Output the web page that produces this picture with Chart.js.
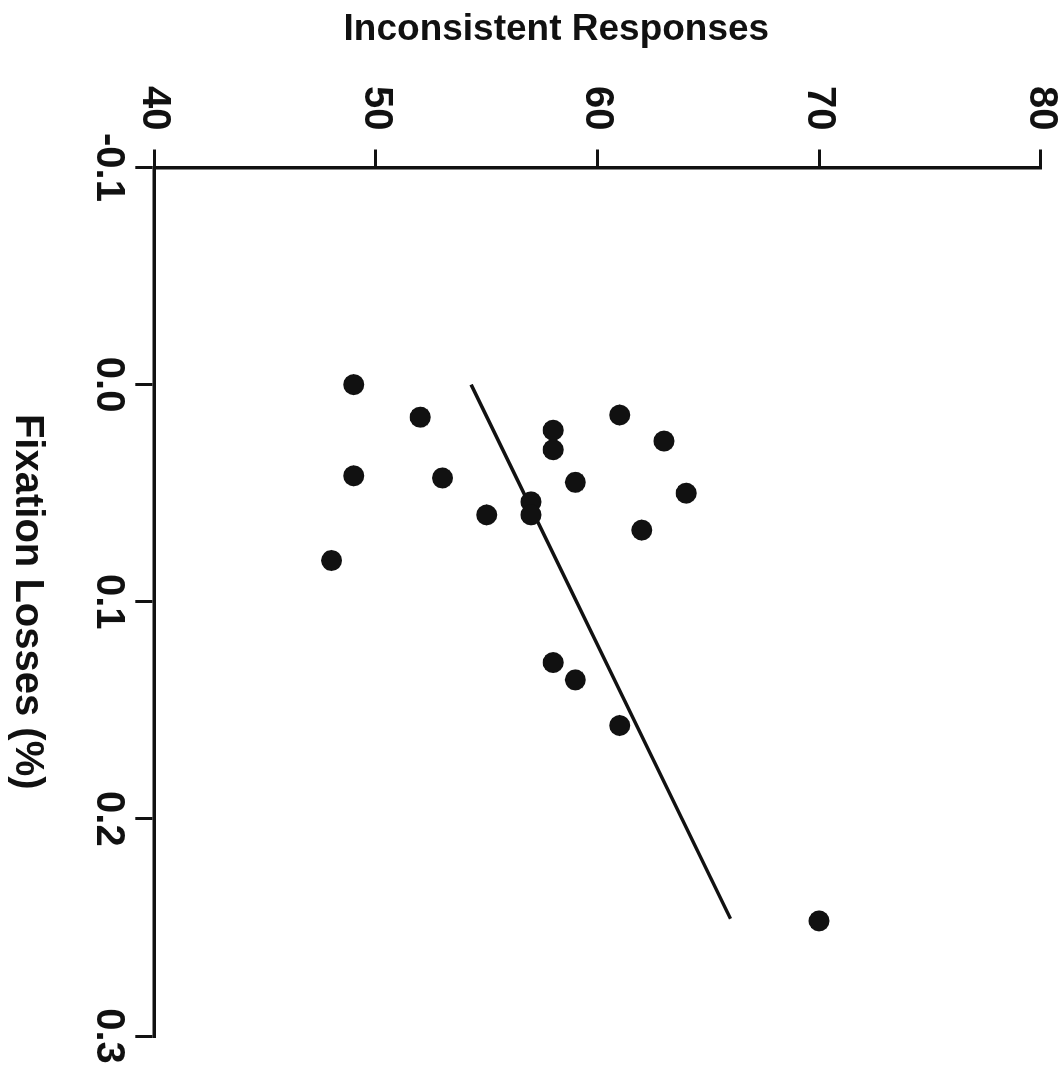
<!DOCTYPE html>
<html>
<head>
<meta charset="utf-8">
<script src="https://cdn.jsdelivr.net/npm/chart.js@4.4.1/dist/chart.umd.min.js"></script>
<style>
  body { margin: 0; background: #fff; overflow: hidden; }
  /* o grafico original esta girado 90 graus no sentido horario */
  #caixa {
    position: absolute; left: 0; top: 0;
    width: 1068px; height: 1064px;
    transform-origin: 0 0;
    transform: translate(1064px, 0) rotate(90deg);
  }
</style>
</head>
<body>
<div id="caixa"><canvas id="myChart" width="1068" height="1064"></canvas></div>
<script>
// dados
var fixationLosses = [0.000, 0.015, 0.042, 0.043, 0.060, 0.054, 0.060, 0.021, 0.030, 0.045, 0.014, 0.026, 0.050, 0.067, 0.081, 0.128, 0.136, 0.157, 0.247]
var inconsistent = [49, 52, 49, 53, 55, 57, 57, 58, 58, 59, 61, 63, 64, 62, 48, 58, 59, 61, 70]

// reta de regressao (pontas)
var fitLosses = [0.0, 0.246]
var fitResponses = [54.3, 66.0]

var xTickValues = [-0.1, 0.0, 0.1, 0.2, 0.3]
var xTickLabels = ['-0.1', '0.0', '0.1', '0.2', '0.3']
var yTickValues = [40, 50, 60, 70, 80]
var yTickLabels = ['40', '50', '60', '70', '80']

var fonte = "'Liberation Sans', Arial, Helvetica, sans-serif"

function juntar(xs, ys) {
  var lista = []
  for (let i = 0; i < xs.length; i++) {
    lista.push({ x: xs[i], y: ys[i] })
  }
  return lista
}

let dados = {
  datasets: [
    {
      type: 'scatter',
      label: 'pontos',
      data: juntar(fixationLosses, inconsistent),
      backgroundColor: '#111',
      borderColor: '#111',
      pointRadius: 10.5,
      pointHoverRadius: 10.5,
      borderWidth: 0
    },
    {
      type: 'line',
      label: 'ajuste',
      data: juntar(fitLosses, fitResponses),
      borderColor: '#111',
      borderWidth: 3.5,
      pointRadius: 0,
      fill: false
    }
  ]
}

const config = {
  type: 'scatter',
  data: dados,
  options: {
    responsive: false,
    animation: false,
    devicePixelRatio: 1,
    layout: { padding: { top: 23.3, right: 32, left: 0, bottom: 0 } },
    plugins: { legend: { display: false }, tooltip: { enabled: false } },
    scales: {
      x: {
        type: 'linear',
        position: 'bottom',
        min: -0.1,
        max: 0.3,
        afterFit: function (scale) {
          scale.height = 154.3
          // sem folga extra nas pontas, o layout ja tem padding
          scale.paddingLeft = 0
          scale.paddingRight = 0
        },
        afterBuildTicks: function (scale) {
          scale.ticks = xTickValues.map(function (v) { return { value: v } })
        },
        ticks: {
          color: '#111',
          padding: 7,
          font: { family: fonte, size: 40, weight: 'bold', lineHeight: 1 },
          callback: function (valor, indice) { return xTickLabels[indice] }
        },
        grid: { drawOnChartArea: false, color: '#111', lineWidth: 3, tickLength: 19 },
        border: { color: '#111', width: 3.5 },
        title: {
          display: true,
          text: 'Fixation Losses (%)',
          color: '#111',
          padding: { top: 0, bottom: 7 },
          font: { family: fonte, size: 40, weight: 'bold', lineHeight: 1 }
        }
      },
      y: {
        type: 'linear',
        position: 'left',
        min: 40,
        max: 80,
        afterFit: function (scale) {
          scale.width = 167.5
          scale.paddingTop = 0
          scale.paddingBottom = 0
        },
        afterBuildTicks: function (scale) {
          scale.ticks = yTickValues.map(function (v) { return { value: v } })
        },
        ticks: {
          color: '#111',
          padding: 19,
          font: { family: fonte, size: 40, weight: 'bold', lineHeight: 1 },
          callback: function (valor, indice) { return yTickLabels[indice] }
        },
        grid: { drawOnChartArea: false, color: '#111', lineWidth: 3, tickLength: 18 },
        border: { color: '#111', width: 3.5 },
        title: {
          display: true,
          // espacos no fim deslocam o titulo como no original
          text: 'Inconsistent Responses        ',
          color: '#111',
          padding: { top: 11, bottom: 0 },
          font: { family: fonte, size: 37, weight: 'bold', lineHeight: 1 }
        }
      }
    }
  }
}

var myChart = new Chart(
  document.getElementById('myChart'),
  config
)
</script>
</body>
</html>
